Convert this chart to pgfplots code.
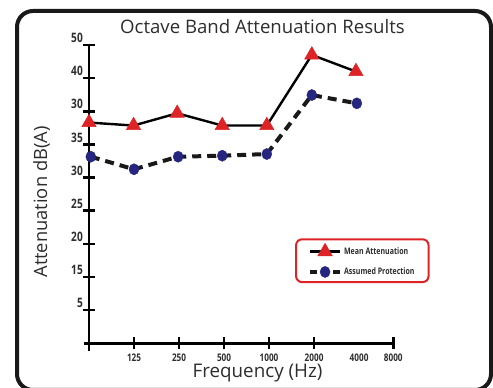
\documentclass[border=0pt]{standalone}
\usepackage{fontspec}
\setmainfont{Open Sans}
\newfontfamily\cond[FakeStretch=0.78]{Open Sans}
\usepackage{pgfplots}
\pgfplotsset{compat=1.18}
\definecolor{tri}{RGB}{222,35,38}
\definecolor{dot}{RGB}{38,38,128}
\definecolor{txt}{RGB}{45,45,45}
\begin{document}
\begin{tikzpicture}[x=1pt,y=1pt]
\begin{axis}[
  at={(89pt,44.7pt)}, anchor=south west,
  scale only axis, width=304.3pt, height=298.3pt,
  xmin=0, xmax=6.76, ymin=0, ymax=9,
  clip=false,
  axis lines=left,
  axis line style={line width=2.6pt, -},
  y axis line style={shorten <=-8pt},
  x axis line style={shorten <=-5pt},
  xtick={1,2,3,4,5,6.76},
  xticklabels={125,250,500,1000,2000,8000},
  extra x ticks={6}, extra x tick labels={4000},
  extra x tick style={every major tick/.append style={draw=none}},
  ytick={1,2,3,4,5,6,7,8,9},
  yticklabels={5,15,20,25,30,35,30,40,50},
  tick align=center, major tick length=12pt,
  every tick/.style={black, line width=2.6pt},
  xticklabel style={font=\cond\bfseries\fontsize{10.5}{12}\selectfont, text=txt, anchor=north, inner sep=0pt, yshift=-4pt},
  yticklabel style={font=\cond\bfseries\fontsize{13}{14}\selectfont, text=txt, anchor=south east, inner sep=0pt, xshift=0pt, yshift=2pt},
  legend style={at={(axis cs:4.578,3.168)}, anchor=north west, draw=tri, line width=2pt, rounded corners=6pt,
    inner xsep=12pt, inner ysep=4pt, row sep=8pt,
    font=\cond\bfseries\fontsize{9}{10}\selectfont, text=txt,
    /tikz/every even column/.append style={column sep=11pt}},
  legend image code/.code={\draw[sharp corners,mark repeat=2,mark phase=2,#1] plot coordinates {(0pt,0pt)(15pt,0pt)(30pt,0pt)};},
  legend cell align=left,
]
\addplot[black, line width=2.4pt, mark=triangle*, mark size=8.3pt,
  mark options={draw=tri, fill=tri, line width=0.5pt, solid}]
  coordinates {(0,6.66) (0.99,6.57) (1.96,6.94) (2.96,6.57) (3.95,6.57) (4.95,8.70) (5.93,8.20)};
\addlegendentry{Mean Attenuation}
\addplot[black!90, line width=4pt, dash pattern=on 9pt off 6pt, mark=*, mark size=5pt,
  mark options={draw=dot, fill=dot, line width=0.4pt, solid, yscale=1.12},
  legend image post style={dash pattern=on 7pt off 16pt on 7pt}]
  coordinates {(0.04,5.63) (1.0,5.25) (1.98,5.63) (2.96,5.66) (3.95,5.71) (4.95,7.49) (5.95,7.24)};
\addlegendentry{Assumed Protection}
\end{axis}
\node[text=txt, font=\fontsize{18.6}{22}\selectfont] at (262.5,361) {Octave Band Attenuation Results};
\node[text=txt, font=\fontsize{18.8}{22}\selectfont] at (257.5,15) {Frequency (Hz)};
\node[text=txt, font=\fontsize{18.3}{22}\selectfont, rotate=90] at (41.7,186) {Attenuation dB(A)};
\draw[line width=4pt, rounded corners=16pt, black!90] (17,-2) rectangle (491,377);
\pgfresetboundingbox
\path[use as bounding box] (0,0) rectangle (493,388);
\end{tikzpicture}
\end{document}
